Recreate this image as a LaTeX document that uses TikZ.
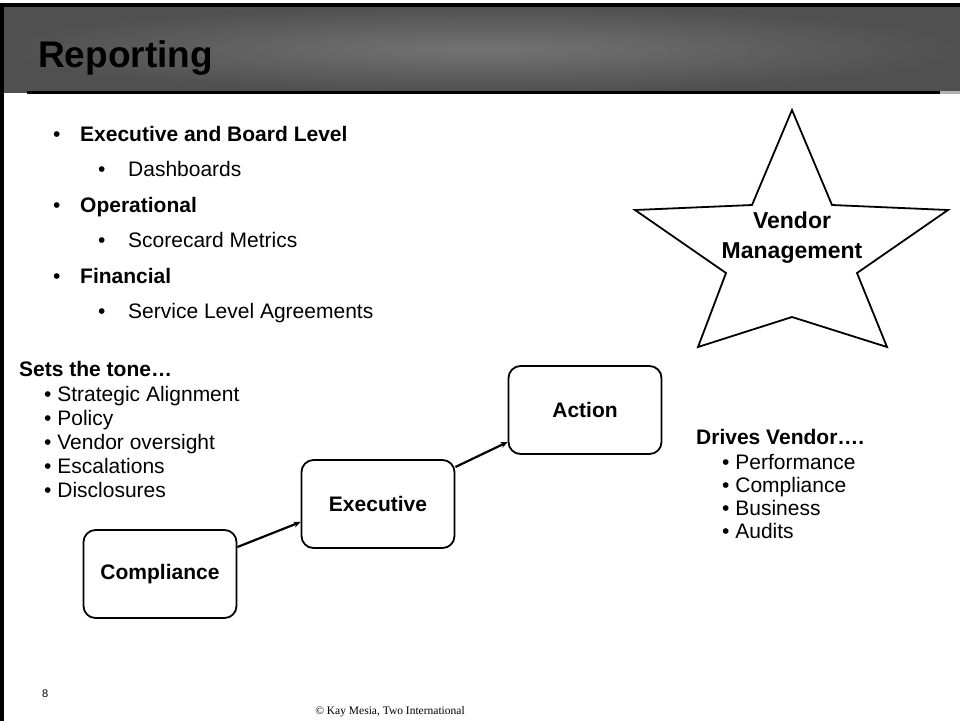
\documentclass[tikz,border=0pt]{standalone}
\usepackage{fontspec}
\setmainfont{Liberation Sans}
\newfontfamily\footfont{Liberation Serif}
\usetikzlibrary{arrows.meta,positioning}

\definecolor{barlight}{HTML}{737373}
\definecolor{bardark}{HTML}{505050}

\tikzset{
  stagebox/.style={draw, line width=1.8pt, rounded corners=12pt, minimum width=153pt, minimum height=88pt, font=\fontsize{21}{25}\selectfont\bfseries},
  flow/.style={-{Stealth[length=7pt,width=6pt]}, line width=2.2pt},
  itemtext/.style={anchor=base west, inner sep=0pt, font=\fontsize{21}{25}\selectfont},
  headtext/.style={itemtext, font=\fontsize{21}{25}\selectfont\bfseries},
}

\begin{document}
\begin{tikzpicture}[x=1pt,y=-1pt]
  \useasboundingbox (0,0) rectangle (960,721);

  % Title bar
  \shade[inner color=barlight, outer color=bardark] (4,6) rectangle (960,92);
  \draw[line width=3pt] (27,92) -- (940,92);
  \draw[line width=3pt, black!30] (940,92) -- (960,92);
  \draw[line width=4pt] (2,721) -- (2,5) -- (960,5);
  \node[anchor=base west, inner sep=0pt, font=\fontsize{37}{40}\selectfont\bfseries] (title) at (38,67) {Reporting};

  % Top list
  \node[itemtext] (b1) at (53,141) {•};
  \node[headtext] (exec board) at (80,141) {Executive and Board Level};
  \node[itemtext] (b2) at (98,176.5) {•};
  \node[itemtext] (dash) at (128,176.5) {Dashboards};
  \node[itemtext] (b3) at (53,212) {•};
  \node[headtext] (oper) at (80,212) {Operational};
  \node[itemtext] (b4) at (98,247.5) {•};
  \node[itemtext] (score) at (128,247.5) {Scorecard Metrics};
  \node[itemtext] (b5) at (53,283) {•};
  \node[headtext] (fin) at (80,283) {Financial};
  \node[itemtext] (b6) at (98,318.5) {•};
  \node[itemtext] (sla) at (128,318.5) {Service Level Agreements};

  % Star
  \draw[line width=1.8pt, line join=miter] (792,110) -- (832,205) -- (948,210) -- (857,273) -- (887,347) -- (792,317)
    -- (698,347) -- (726,273) -- (635,210) -- (752,205) -- cycle;
  \node[align=center, font=\fontsize{23}{30}\selectfont\bfseries] (vendor) at (792,238) {Vendor\\Management};

  % Sets the tone
  \node[headtext] (tone) at (19,376) {Sets the tone…};
  \node[itemtext] (t1) at (44,401) {• Strategic Alignment};
  \node[itemtext] (t2) at (44,425) {• Policy};
  \node[itemtext] (t3) at (44,449) {• Vendor oversight};
  \node[itemtext] (t4) at (44,473) {• Escalations};
  \node[itemtext] (t5) at (44,497) {• Disclosures};

  % Drives vendor
  \node[headtext] (drives) at (696,444) {Drives Vendor….};
  \node[itemtext] (d1) at (722,469) {• Performance};
  \node[itemtext] (d2) at (722,492) {• Compliance};
  \node[itemtext] (d3) at (722,515) {• Business};
  \node[itemtext] (d4) at (722,538) {• Audits};

  % Stages
  \node[stagebox] (comp) at (160,574) {Compliance};
  \node[stagebox] (exec) at (378,504) {Executive};
  \node[stagebox] (act) at (585,410) {Action};

  \draw[flow] ([yshift=27pt]comp.east) -- ([yshift=-18pt]exec.west);
  \draw[flow] ([yshift=37pt]exec.east) -- ([yshift=-32pt]act.west);

  % Footer
  \node[anchor=base west, inner sep=0pt, font=\fontsize{11}{13}\selectfont] (pagenum) at (42,697) {8};
  \node[anchor=base, inner sep=0pt, font=\footfont\fontsize{11.5}{14}\selectfont] (copy) at (390,714) {© Kay Mesia, Two International};
\end{tikzpicture}
\end{document}
